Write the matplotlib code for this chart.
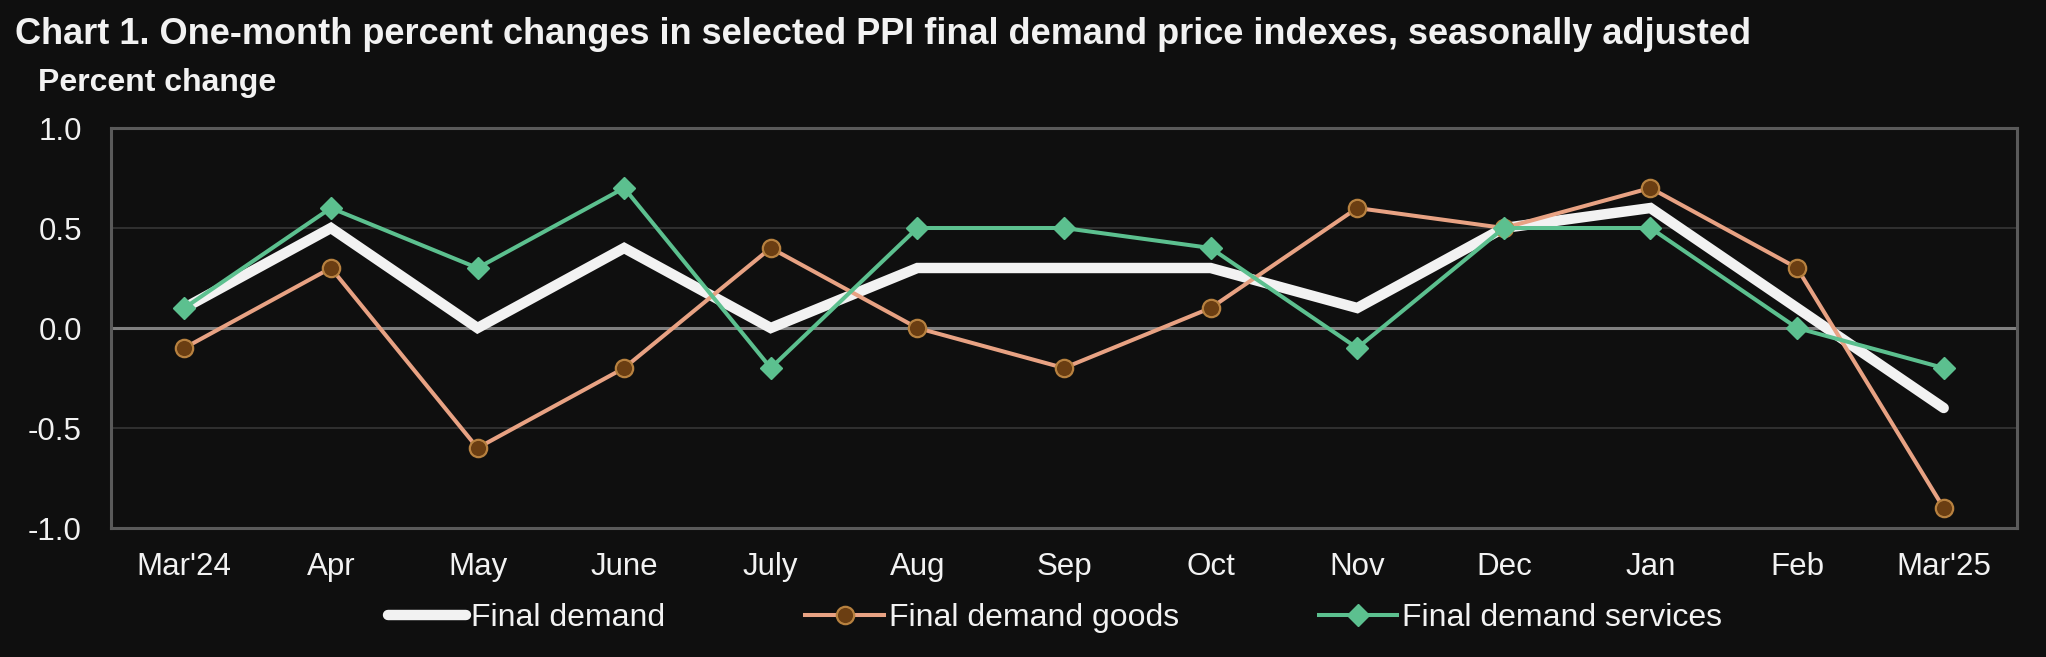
import numpy as np
import matplotlib
matplotlib.use("Agg")
import matplotlib.pyplot as plt

months = ["Mar'24", "Apr", "May", "June", "July", "Aug", "Sep",
          "Oct", "Nov", "Dec", "Jan", "Feb", "Mar'25"]
final_demand = [0.1, 0.5, 0.0, 0.4, 0.0, 0.3, 0.3, 0.3, 0.1, 0.5, 0.6, 0.1, -0.4]
goods = [-0.1, 0.3, -0.6, -0.2, 0.4, 0.0, -0.2, 0.1, 0.6, 0.5, 0.7, 0.3, -0.9]
services = [0.1, 0.6, 0.3, 0.7, -0.2, 0.5, 0.5, 0.4, -0.1, 0.5, 0.5, 0.0, -0.2]
y_ticks = [-1.0, -0.5, 0.0, 0.5, 1.0]

bg = "#0f0f0f"
txt = "#f2f2f2"
plt.rcParams["font.family"] = ["Liberation Sans", "DejaVu Sans"]

fig = plt.figure(figsize=(20.46, 6.57), dpi=100, facecolor=bg)
ax = fig.add_axes([111 / 2046, 1 - 528 / 657, 1906 / 2046, 400 / 657])
ax.set_facecolor(bg)

x = np.arange(len(months))

# gridlines, zero line heavier
for v in y_ticks[1:-1]:
    if v == 0:
        ax.axhline(v, color="#808080", lw=2.2, zorder=1)
    else:
        ax.axhline(v, color="#3a3a3a", lw=1.1, zorder=1)

ax.plot(x, final_demand, color="#f2f2f2", lw=7.5, solid_capstyle="round",
        solid_joinstyle="miter", label="Final demand", zorder=3)
ax.plot(x, goods, color="#e8a283", lw=2.9, marker="o", markersize=12.5,
        markerfacecolor="#6b3e12", markeredgecolor="#b7813f", markeredgewidth=1.6,
        label="Final demand goods", zorder=4)
ax.plot(x, services, color="#5cc08f", lw=2.9, marker="D", markersize=11,
        markerfacecolor="#5cc08f", markeredgecolor="#5cc08f",
        label="Final demand services", zorder=5)

ax.set_xlim(-0.5, len(months) - 0.5)
ax.set_ylim(-1.0, 1.0)
ax.set_xticks(x)
ax.set_xticklabels(months)
ax.set_yticks(y_ticks)
ax.set_yticklabels([f"{v:.1f}" for v in y_ticks])
ax.tick_params(axis="both", length=0, colors=txt, labelsize=22.5)
ax.tick_params(axis="y", pad=21)
ax.tick_params(axis="x", pad=17)

for s in ax.spines.values():
    s.set_color("#5a5a5a")
    s.set_linewidth(2.2)

fig.text(15 / 2046, 1 - 44 / 657,
         "Chart 1. One-month percent changes in selected PPI final demand price indexes, seasonally adjusted",
         color=txt, fontsize=26, fontweight="bold", va="baseline", ha="left")
fig.text(38 / 2046, 1 - 91 / 657, "Percent change", color=txt, fontsize=23,
         fontweight="bold", va="baseline", ha="left")

leg = fig.legend(loc="center", bbox_to_anchor=(1055 / 2046, 1 - 618 / 657), ncol=3,
                 frameon=False, fontsize=23, handlelength=2.45, handletextpad=0.15,
                 columnspacing=4.4, labelcolor=txt)

fig.savefig("out.png", dpi=100, facecolor=bg)
